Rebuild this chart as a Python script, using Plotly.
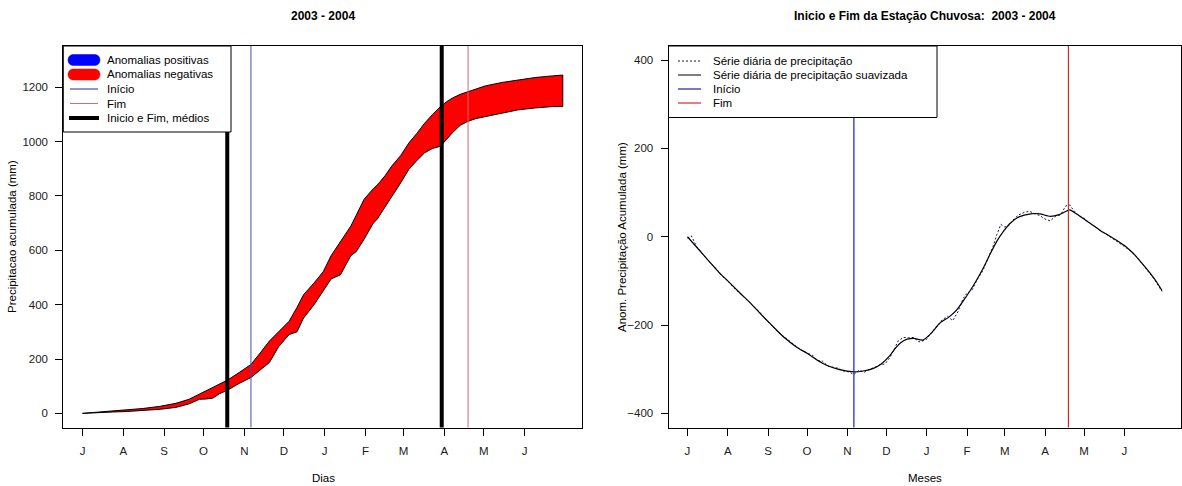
import plotly.graph_objects as go

# ---------------------------------------------------------------- data
# Month ticks: day of the hydrological year (1 = 1 July 2003, leap 2004)
month_days = [1, 32, 63, 93, 124, 154, 185, 216, 245, 276, 306, 337]
month_labels = ["J", "A", "S", "O", "N", "D", "J", "F", "M", "A", "M", "J"]

# Left panel: accumulated precipitation (mm) - climatological and observed
acc_days = [1, 10, 24, 35, 47, 60, 72, 82, 90, 95, 100, 105, 111, 120, 129, 136,
            143, 150, 158, 164, 169, 177, 184, 190, 197, 205, 209, 215, 222, 225,
            231, 236, 243, 249, 255, 261, 267, 273, 278, 282, 288, 294, 300, 307,
            320, 332, 345, 358, 366]
acc_mean = [0, 3, 10, 13, 18, 26, 37, 52, 71, 82, 95, 108, 122, 150, 180, 222,
            266, 300, 339, 390, 437, 480, 522, 581, 632, 690, 729, 788, 827, 840,
            875, 910, 950, 995, 1030, 1068, 1100, 1129, 1148, 1160, 1174, 1184, 1196, 1205,
            1218, 1227, 1236, 1242, 1245]
acc_obs = [0, 1, 5, 7, 10, 15, 22, 35, 52, 53, 56, 72, 85, 110, 132, 160,
           187, 245, 290, 300, 351, 400, 449, 495, 510, 581, 595, 641, 700, 715,
           760, 800, 850, 898, 930, 959, 975, 983, 1010, 1032, 1060, 1075, 1085, 1093,
           1105, 1117, 1124, 1129, 1129]

# Mean onset / end of the rainy season and the 2003-2004 onset / end (day)
mean_onset, mean_end = 111, 274
onset_day, end_day = 129, 294

# Right panel: accumulated precipitation anomaly (mm)
raw_days = [1, 4, 8, 13, 18, 23, 28, 32, 37, 42, 47, 52, 57, 62, 67, 72, 77, 82,
            87, 92, 97, 101, 105, 109, 113, 117, 121, 125, 129, 133, 137, 141, 145,
            149, 153, 157, 160, 163, 167, 171, 175, 179, 182, 185, 189, 193, 197,
            201, 205, 209, 213, 216, 220, 224, 228, 232, 236, 239, 242, 245, 248,
            252, 256, 260, 264, 268, 272, 276, 280, 284, 288, 292, 295, 298, 302,
            306, 310, 315, 320, 325, 330, 335, 340, 345, 350, 355, 360, 366]
raw_anom = [-3, 2, -22, -40, -58, -72, -90, -100, -117, -130, -143, -158, -172,
            -190, -205, -220, -230, -243, -254, -262, -268, -280, -282, -293, -295,
            -298, -304, -306, -312, -302, -307, -300, -296, -290, -288, -272, -255,
            -236, -228, -229, -228, -238, -236, -232, -215, -203, -188, -180, -190,
            -170, -140, -128, -120, -96, -78, -50, -22, 5, 28, 22, 25, 40, 50, 55,
            58, 52, 48, 40, 36, 46, 50, 70, 72, 60, 48, 42, 32, 22, 12, 4, -6, -16,
            -28, -40, -58, -76, -96, -124]

smooth_days = [1, 10, 18, 25, 32, 42, 50, 57, 65, 75, 85, 93, 100, 108, 118, 129,
               136, 144, 150, 157, 161, 165, 170, 175, 182, 188, 195, 202, 208, 213,
               218, 224, 229, 234, 239, 244, 249, 256, 265, 272, 280, 287, 295, 300,
               306, 312, 318, 325, 331, 338, 344, 350, 357, 362, 366]
smooth_anom = [0, -30, -57, -80, -100, -129, -152, -174, -198, -227, -250, -264,
               -278, -291, -301, -306, -304, -298, -288, -268, -252, -240, -232, -230,
               -234, -220, -196, -182, -166, -146, -124, -95, -68, -38, -10, 12, 30,
               45, 52, 52, 46, 50, 61, 52, 40, 28, 15, 3, -8, -22, -38, -58, -83,
               -103, -122]

left_yticks = [0, 200, 400, 600, 800, 1000, 1200]
right_yticks = [-400, -200, 0, 200, 400]

# ---------------------------------------------------------------- layout helpers
W, H = 1182, 486
FONT = "Liberation Sans, Arial, sans-serif"


def fx(px):
    return px / W


def fy(py):
    return 1 - py / H


BOX_TOP, BOX_BOTTOM = 46, 427.5
L_LEFT, L_RIGHT = 63.3, 582
R_LEFT, R_RIGHT = 668.5, 1181

fig = go.Figure()

# ---------------------------------------------------------------- left panel
poly_x = acc_days + acc_days[::-1]
poly_y = acc_mean + acc_obs[::-1]
fig.add_trace(go.Scatter(
    x=poly_x, y=poly_y, mode="lines", fill="toself", fillcolor="#ff0000",
    line=dict(color="black", width=1), xaxis="x", yaxis="y",
    showlegend=False, hoverinfo="skip"))

# ---------------------------------------------------------------- right panel
fig.add_trace(go.Scatter(
    x=raw_days, y=raw_anom, mode="lines",
    line=dict(color="#14145a", width=1, dash="2px,2px"),
    xaxis="x2", yaxis="y2", showlegend=False))
fig.add_trace(go.Scatter(
    x=smooth_days, y=smooth_anom, mode="lines",
    line=dict(color="black", width=1.2, shape="spline", smoothing=0.6),
    xaxis="x2", yaxis="y2", showlegend=False))

shapes = []


def vline(xref, yref, x, color, width):
    shapes.append(dict(type="line", xref=xref, yref=yref, x0=x, x1=x, y0=0, y1=1,
                       line=dict(color=color, width=width), layer="above"))


vline("x", "y domain", mean_onset, "black", 4)
vline("x", "y domain", mean_end, "black", 4)
vline("x", "y domain", onset_day, "#3f4fb0", 1)
vline("x", "y domain", end_day, "#c86a6a", 1)
vline("x2", "y2 domain", onset_day, "#1f1fa8", 1.2)
vline("x2", "y2 domain", end_day, "#d42a2a", 1.2)

annotations = []


def legend_box(x0, y0, x1, y1):
    shapes.append(dict(type="rect", xref="paper", yref="paper",
                       x0=fx(x0), x1=fx(x1), y0=fy(y1), y1=fy(y0),
                       fillcolor="white", line=dict(color="black", width=1),
                       layer="above"))


def legend_line(x0, x1, y, color, width, dash="solid"):
    shapes.append(dict(type="line", xref="paper", yref="paper",
                       x0=fx(x0), x1=fx(x1), y0=fy(y), y1=fy(y),
                       line=dict(color=color, width=width, dash=dash),
                       layer="above"))


def legend_pill(x0, x1, y, h, color):
    r = h / 2
    a, b = x0 + r, x1 - r
    k = 1.333 * r
    pts = [("M", [(a, y - r)]), ("L", [(b, y - r)]),
           ("C", [(b + k, y - r), (b + k, y + r), (b, y + r)]),
           ("L", [(a, y + r)]),
           ("C", [(a - k, y + r), (a - k, y - r), (a, y - r)])]
    path = ""
    for cmd, ps in pts:
        path += cmd + " " + " ".join(f"{fx(px):.6f},{fy(py):.6f}" for px, py in ps) + " "
    shapes.append(dict(type="path", xref="paper", yref="paper", path=path + "Z",
                       fillcolor=color, line=dict(color=color, width=0.5),
                       layer="above"))


def legend_text(x, y, text):
    annotations.append(dict(x=fx(x), y=fy(y), xref="paper", yref="paper",
                            text=text, showarrow=False, xanchor="left",
                            yanchor="middle",
                            font=dict(family=FONT, size=11.5, color="black")))


# left legend
legend_box(L_LEFT, BOX_TOP, 231, 132)
rows = [60, 74.5, 89, 103.5, 118]
legend_pill(68, 100, rows[0], 11, "#0000ff")
legend_pill(68, 100, rows[1], 11, "#ff0000")
legend_line(70, 98, rows[2], "#2a2a9a", 1)
legend_line(70, 98, rows[3], "#d07070", 1)
legend_line(69, 99, rows[4], "black", 4)
for r, t in zip(rows, ["Anomalias positivas", "Anomalias negativas", "Início", "Fim",
                       "Inicio e Fim, médios"]):
    legend_text(105, r, t)

# right legend
legend_box(R_LEFT, BOX_TOP, 937, 117.5)
rrows = [61, 75, 89, 103]
legend_line(678, 701, rrows[0], "#14145a", 1, "2px,2px")
legend_line(678, 701, rrows[1], "black", 1)
legend_line(678, 701, rrows[2], "#1f1fa8", 1.2)
legend_line(678, 701, rrows[3], "#d42a2a", 1.2)
for r, t in zip(rrows, ["Série diária de precipitação",
                        "Série diária de precipitação suavizada", "Início", "Fim"]):
    legend_text(711, r, t)


def label(x, y, text, size=11.5, angle=0, bold=False):
    annotations.append(dict(x=fx(x), y=fy(y), xref="paper", yref="paper",
                            text=f"<b>{text}</b>" if bold else text,
                            showarrow=False, xanchor="center", yanchor="middle",
                            textangle=angle,
                            font=dict(family=FONT, size=size, color="black")))


label(323, 16, "2003 - 2004", 12, bold=True)
label(925, 16, "Inicio e Fim da Estação Chuvosa:  2003 - 2004", 12, bold=True)
label(323, 478, "Dias", 11.5)
label(925, 478, "Meses", 11.5)
label(12, 237, "Precipitacao acumulada (mm)", 11.5, angle=-90)
label(622, 237, "Anom. Precipitação Acumulada (mm)", 11.5, angle=-90)

axis_common = dict(showline=True, mirror=True, linecolor="black", linewidth=1,
                   ticks="outside", ticklen=7, tickcolor="black", tickwidth=1,
                   showgrid=False, zeroline=False,
                   tickfont=dict(family=FONT, size=11.5, color="#1a1a1a"))

fig.update_layout(
    width=W, height=H, margin=dict(l=0, r=0, t=0, b=0),
    paper_bgcolor="white", plot_bgcolor="white", showlegend=False,
    xaxis=dict(domain=[fx(L_LEFT), fx(L_RIGHT)], range=[-13.6, 380.6],
               tickvals=month_days, ticktext=month_labels, anchor="y",
               ticklabelstandoff=6, **axis_common),
    yaxis=dict(domain=[fy(BOX_BOTTOM), fy(BOX_TOP)], range=[-52, 1352],
               tickvals=left_yticks, anchor="x", ticklabelstandoff=5,
               **axis_common),
    xaxis2=dict(domain=[fx(R_LEFT), fx(R_RIGHT)], range=[-13.6, 380.6],
                tickvals=month_days, ticktext=month_labels, anchor="y2",
                ticklabelstandoff=6, **axis_common),
    yaxis2=dict(domain=[fy(BOX_BOTTOM), fy(BOX_TOP)], range=[-432, 432],
                tickvals=right_yticks, anchor="x2", ticklabelstandoff=5,
                **axis_common),
    shapes=shapes, annotations=annotations,
)

fig.write_html("out.html")
